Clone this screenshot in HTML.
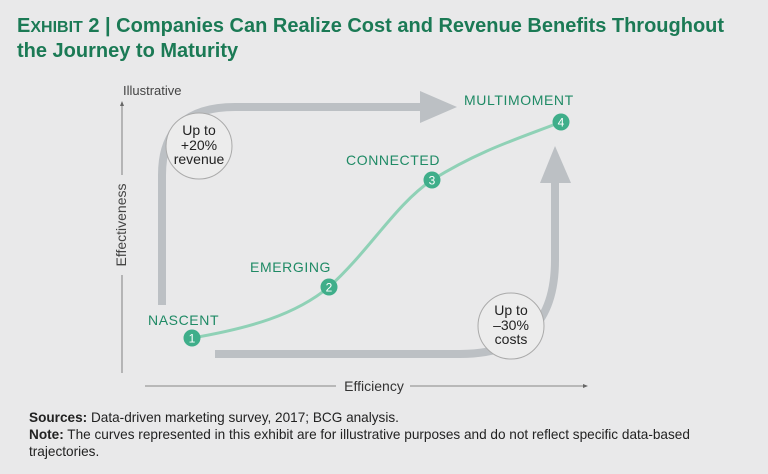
<!DOCTYPE html>
<html><head><style>
body{margin:0;width:768px;height:474px;background:#e9e9ea;overflow:hidden;font-family:"Liberation Sans",sans-serif}
</style></head><body>
<svg width="768" height="474" xmlns="http://www.w3.org/2000/svg" style="position:absolute;left:0;top:0">
<g font-family="Liberation Sans, sans-serif">
<text x="17" y="32" font-size="20" font-weight="bold" fill="#1b7a55"><tspan>E</tspan><tspan font-size="16">XHIBIT</tspan> 2 | Companies Can Realize Cost and Revenue Benefits Throughout</text>
<text x="17" y="57" font-size="20" font-weight="bold" fill="#1b7a55">the Journey to Maturity</text>

<text x="123" y="95" font-size="13" fill="#444">Illustrative</text>
<line x1="122" y1="104" x2="122" y2="175" stroke="#666" stroke-width="0.8"/>
<line x1="122" y1="275" x2="122" y2="373" stroke="#666" stroke-width="0.8"/>
<polygon points="122,101 120,106 124,106" fill="#666"/>
<text transform="translate(126,225) rotate(-90)" font-size="14" fill="#444" text-anchor="middle">Effectiveness</text>
<line x1="145" y1="386" x2="336" y2="386" stroke="#666" stroke-width="0.8"/>
<line x1="410" y1="386" x2="585" y2="386" stroke="#666" stroke-width="0.8"/>
<polygon points="588,386 583,384 583,388" fill="#666"/>
<text x="374" y="391" font-size="14" fill="#333" text-anchor="middle">Efficiency</text>

<path d="M162,305 V175 Q162,107 235,107 H422" fill="none" stroke="#bcc0c4" stroke-width="8"/>
<polygon points="420,91 457,107 420,123" fill="#bcc0c4"/>
<path d="M215,354 H460 Q555,354 555,260 V183" fill="none" stroke="#bcc0c4" stroke-width="8"/>
<polygon points="540,183 555,146 571,183" fill="#bcc0c4"/>

<circle cx="199" cy="146" r="33" fill="#ececec" stroke="#aaa" stroke-width="1"/>
<text x="199" y="135" font-size="14" fill="#222" text-anchor="middle">Up to</text>
<text x="199" y="150" font-size="14" fill="#222" text-anchor="middle">+20%</text>
<text x="199" y="164" font-size="14" fill="#222" text-anchor="middle">revenue</text>
<circle cx="511" cy="326" r="33" fill="#ececec" stroke="#aaa" stroke-width="1"/>
<text x="511" y="315" font-size="14" fill="#222" text-anchor="middle">Up to</text>
<text x="511" y="330" font-size="14" fill="#222" text-anchor="middle">–30%</text>
<text x="511" y="344" font-size="14" fill="#222" text-anchor="middle">costs</text>

<path d="M192,338 C250,328 295,315 329,287 C370,250 395,205 432,180 C480,150 520,138 561,122" fill="none" stroke="#8fd1b6" stroke-width="3"/>
<g font-size="12" fill="#fff" text-anchor="middle">
<circle cx="192" cy="338" r="8.5" fill="#3fae8a"/><text x="192" y="342.5">1</text>
<circle cx="329" cy="287" r="8.5" fill="#3fae8a"/><text x="329" y="291.5">2</text>
<circle cx="432" cy="180" r="8.5" fill="#3fae8a"/><text x="432" y="184.5">3</text>
<circle cx="561" cy="122" r="8.5" fill="#3fae8a"/><text x="561" y="126.5">4</text>
</g>
<g font-size="14" fill="#1f8a65" letter-spacing="0.6">
<text x="148" y="325">NASCENT</text>
<text x="250" y="272">EMERGING</text>
<text x="346" y="165">CONNECTED</text>
<text x="464" y="105">MULTIMOMENT</text>
</g>

<g font-size="13.6" fill="#222">
<text x="29" y="422"><tspan font-weight="bold">Sources:</tspan> Data-driven marketing survey, 2017; BCG analysis.</text>
<text x="29" y="439"><tspan font-weight="bold">Note:</tspan> The curves represented in this exhibit are for illustrative purposes and do not reflect specific data-based</text>
<text x="29" y="456">trajectories.</text>
</g>
</g>
</svg>
</body></html>
